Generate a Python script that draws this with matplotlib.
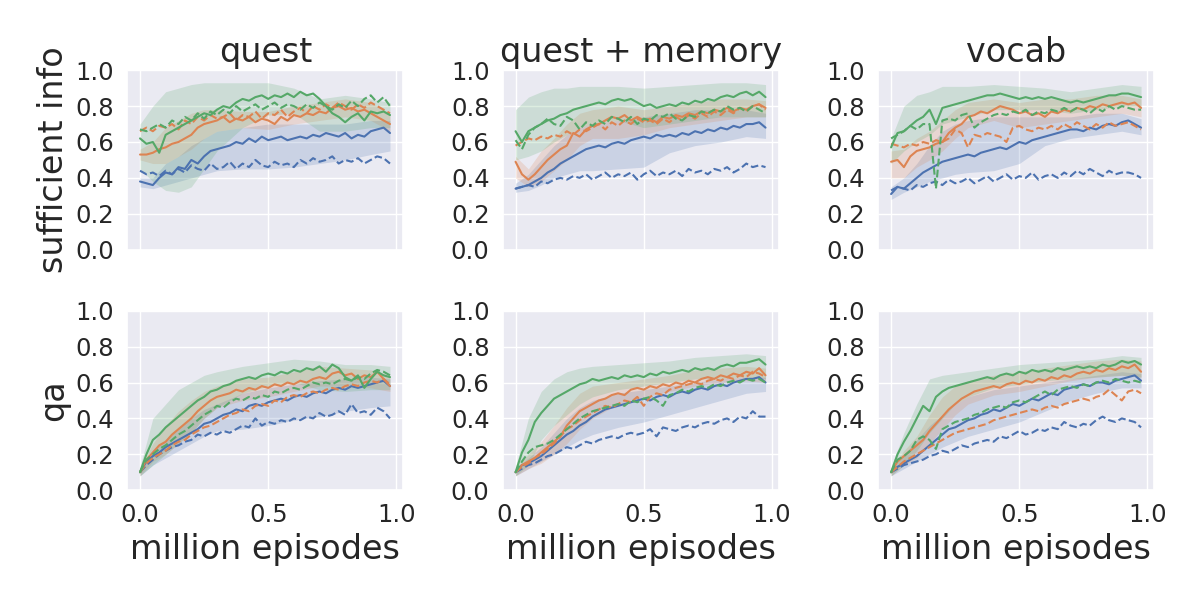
import numpy as np
import matplotlib
matplotlib.use("Agg")
import matplotlib.pyplot as plt
import seaborn as sns

# x axis: million episodes
episodes = np.arange(40) * 0.025
band_x = [0, 0.05, 0.1, 0.15, 0.2, 0.25, 0.3, 0.4, 0.5, 0.6, 0.7, 0.8, 0.9, 0.975]

titles = ["quest", "quest + memory", "vocab"]
row_labels = ["sufficient info", "qa"]

# ---- sufficient info : quest ----
si_quest_blue = [0.38, 0.37, 0.36, 0.40, 0.43, 0.42, 0.46, 0.45, 0.50, 0.48, 0.52, 0.55, 0.56, 0.57, 0.58, 0.60,
                 0.59, 0.62, 0.60, 0.63, 0.61, 0.62, 0.63, 0.61, 0.62, 0.63, 0.62, 0.64, 0.63, 0.65, 0.64, 0.63,
                 0.65, 0.62, 0.64, 0.63, 0.66, 0.67, 0.68, 0.65]
si_quest_blue_dash = [0.44, 0.42, 0.43, 0.41, 0.44, 0.42, 0.45, 0.43, 0.47, 0.45, 0.44, 0.48, 0.45, 0.46, 0.49, 0.45,
                      0.48, 0.46, 0.50, 0.47, 0.46, 0.49, 0.47, 0.48, 0.46, 0.50, 0.48, 0.51, 0.49, 0.50, 0.52, 0.48,
                      0.50, 0.49, 0.51, 0.48, 0.50, 0.52, 0.51, 0.48]
si_quest_orange = [0.53, 0.53, 0.54, 0.56, 0.57, 0.59, 0.60, 0.62, 0.64, 0.68, 0.70, 0.71, 0.72, 0.74, 0.71, 0.73,
                   0.72, 0.74, 0.71, 0.73, 0.72, 0.70, 0.74, 0.72, 0.75, 0.74, 0.76, 0.75, 0.77, 0.76, 0.79, 0.80,
                   0.78, 0.79, 0.77, 0.78, 0.76, 0.74, 0.72, 0.70]
si_quest_orange_dash = [0.66, 0.68, 0.66, 0.69, 0.68, 0.70, 0.67, 0.72, 0.70, 0.74, 0.72, 0.75, 0.73, 0.74, 0.76, 0.72,
                        0.75, 0.74, 0.77, 0.73, 0.76, 0.75, 0.78, 0.74, 0.77, 0.79, 0.76, 0.80, 0.78, 0.81, 0.79, 0.82,
                        0.80, 0.78, 0.81, 0.79, 0.82, 0.80, 0.78, 0.76]
si_quest_green = [0.62, 0.59, 0.60, 0.54, 0.64, 0.66, 0.68, 0.70, 0.72, 0.74, 0.76, 0.75, 0.78, 0.80, 0.79, 0.82,
                  0.84, 0.83, 0.85, 0.86, 0.84, 0.86, 0.85, 0.87, 0.85, 0.88, 0.86, 0.87, 0.84, 0.80, 0.76, 0.74,
                  0.71, 0.74, 0.76, 0.72, 0.77, 0.76, 0.77, 0.75]
si_quest_green_dash = [0.67, 0.66, 0.68, 0.70, 0.68, 0.72, 0.70, 0.74, 0.72, 0.76, 0.73, 0.77, 0.75, 0.78, 0.76, 0.80,
                       0.77, 0.79, 0.81, 0.78, 0.80, 0.82, 0.79, 0.81, 0.80, 0.78, 0.81, 0.79, 0.82, 0.80, 0.78, 0.81,
                       0.79, 0.83, 0.80, 0.84, 0.86, 0.82, 0.85, 0.80]
si_quest_blue_lo = [0.35, 0.34, 0.36, 0.38, 0.40, 0.42, 0.44, 0.45, 0.45, 0.46, 0.48, 0.50, 0.53, 0.55]
si_quest_blue_hi = [0.40, 0.40, 0.48, 0.52, 0.58, 0.62, 0.66, 0.68, 0.70, 0.70, 0.70, 0.70, 0.72, 0.72]
si_quest_orange_lo = [0.50, 0.48, 0.48, 0.52, 0.56, 0.62, 0.66, 0.68, 0.67, 0.70, 0.72, 0.74, 0.72, 0.66]
si_quest_orange_hi = [0.56, 0.60, 0.68, 0.72, 0.76, 0.78, 0.78, 0.77, 0.77, 0.80, 0.82, 0.84, 0.82, 0.76]
si_quest_green_lo = [0.45, 0.38, 0.33, 0.32, 0.35, 0.45, 0.55, 0.68, 0.75, 0.76, 0.66, 0.66, 0.68, 0.68]
si_quest_green_hi = [0.70, 0.80, 0.88, 0.90, 0.92, 0.93, 0.93, 0.93, 0.93, 0.90, 0.84, 0.86, 0.84, 0.82]

# ---- sufficient info : quest + memory ----
si_mem_blue = [0.34, 0.35, 0.36, 0.38, 0.40, 0.43, 0.45, 0.48, 0.50, 0.52, 0.54, 0.56, 0.57, 0.58, 0.57, 0.59,
               0.60, 0.59, 0.61, 0.62, 0.63, 0.62, 0.64, 0.63, 0.64, 0.63, 0.65, 0.64, 0.66, 0.65, 0.67, 0.66,
               0.68, 0.67, 0.69, 0.68, 0.70, 0.70, 0.71, 0.68]
si_mem_blue_dash = [0.34, 0.35, 0.36, 0.35, 0.38, 0.37, 0.39, 0.40, 0.39, 0.41, 0.40, 0.42, 0.39, 0.41, 0.43, 0.40,
                    0.42, 0.41, 0.43, 0.39, 0.42, 0.44, 0.41, 0.43, 0.42, 0.44, 0.41, 0.45, 0.43, 0.44, 0.42, 0.45,
                    0.44, 0.46, 0.43, 0.45, 0.48, 0.46, 0.47, 0.46]
si_mem_orange = [0.49, 0.42, 0.39, 0.42, 0.46, 0.50, 0.53, 0.56, 0.58, 0.65, 0.63, 0.67, 0.69, 0.70, 0.72, 0.74,
                 0.73, 0.75, 0.72, 0.74, 0.72, 0.73, 0.71, 0.74, 0.73, 0.75, 0.74, 0.76, 0.75, 0.77, 0.76, 0.78,
                 0.77, 0.79, 0.77, 0.79, 0.78, 0.80, 0.81, 0.79]
si_mem_orange_dash = [0.58, 0.60, 0.62, 0.61, 0.63, 0.62, 0.64, 0.63, 0.66, 0.64, 0.67, 0.66, 0.68, 0.70, 0.67, 0.71,
                      0.69, 0.72, 0.70, 0.73, 0.71, 0.72, 0.70, 0.73, 0.71, 0.74, 0.72, 0.75, 0.73, 0.76, 0.74, 0.77,
                      0.75, 0.78, 0.76, 0.79, 0.77, 0.80, 0.81, 0.78]
si_mem_green = [0.66, 0.60, 0.66, 0.68, 0.70, 0.72, 0.73, 0.75, 0.76, 0.78, 0.79, 0.80, 0.81, 0.82, 0.81, 0.83,
                0.84, 0.83, 0.84, 0.82, 0.80, 0.81, 0.79, 0.80, 0.81, 0.80, 0.82, 0.81, 0.83, 0.82, 0.84, 0.83,
                0.85, 0.86, 0.85, 0.87, 0.88, 0.86, 0.88, 0.85]
si_mem_green_dash = [0.61, 0.56, 0.64, 0.68, 0.70, 0.73, 0.70, 0.69, 0.74, 0.72, 0.67, 0.71, 0.69, 0.72, 0.70, 0.74,
                     0.73, 0.71, 0.74, 0.70, 0.73, 0.72, 0.75, 0.74, 0.76, 0.73, 0.72, 0.75, 0.74, 0.77, 0.76, 0.78,
                     0.77, 0.80, 0.78, 0.79, 0.77, 0.80, 0.78, 0.76]
si_mem_blue_lo = [0.32, 0.33, 0.36, 0.40, 0.42, 0.44, 0.44, 0.45, 0.46, 0.54, 0.58, 0.60, 0.63, 0.62]
si_mem_blue_hi = [0.37, 0.42, 0.50, 0.58, 0.64, 0.68, 0.70, 0.72, 0.74, 0.76, 0.78, 0.78, 0.78, 0.76]
si_mem_orange_lo = [0.40, 0.35, 0.38, 0.44, 0.50, 0.58, 0.62, 0.62, 0.64, 0.68, 0.70, 0.72, 0.74, 0.74]
si_mem_orange_hi = [0.52, 0.45, 0.55, 0.62, 0.70, 0.76, 0.78, 0.80, 0.78, 0.80, 0.82, 0.84, 0.84, 0.83]
si_mem_green_lo = [0.50, 0.52, 0.55, 0.60, 0.64, 0.68, 0.70, 0.72, 0.68, 0.70, 0.72, 0.74, 0.74, 0.74]
si_mem_green_hi = [0.78, 0.85, 0.88, 0.90, 0.90, 0.91, 0.91, 0.91, 0.90, 0.91, 0.92, 0.93, 0.93, 0.92]

# ---- sufficient info : vocab ----
si_voc_blue = [0.31, 0.35, 0.34, 0.37, 0.40, 0.43, 0.45, 0.47, 0.49, 0.50, 0.51, 0.52, 0.53, 0.52, 0.54, 0.55,
               0.56, 0.57, 0.56, 0.58, 0.60, 0.59, 0.61, 0.62, 0.63, 0.64, 0.65, 0.66, 0.67, 0.67, 0.66, 0.68,
               0.67, 0.69, 0.70, 0.69, 0.71, 0.72, 0.70, 0.68]
si_voc_blue_dash = [0.33, 0.35, 0.34, 0.33, 0.36, 0.35, 0.37, 0.38, 0.36, 0.39, 0.37, 0.38, 0.40, 0.37, 0.39, 0.41,
                    0.38, 0.40, 0.42, 0.39, 0.41, 0.40, 0.43, 0.39, 0.41, 0.42, 0.40, 0.43, 0.41, 0.44, 0.42, 0.45,
                    0.43, 0.41, 0.44, 0.42, 0.43, 0.43, 0.42, 0.40]
si_voc_orange = [0.49, 0.50, 0.46, 0.52, 0.55, 0.56, 0.57, 0.59, 0.60, 0.65, 0.68, 0.70, 0.74, 0.75, 0.77, 0.76,
                 0.78, 0.80, 0.79, 0.78, 0.76, 0.77, 0.75, 0.76, 0.74, 0.77, 0.76, 0.78, 0.77, 0.79, 0.78, 0.80,
                 0.79, 0.81, 0.80, 0.81, 0.82, 0.81, 0.82, 0.79]
si_voc_orange_dash = [0.59, 0.58, 0.57, 0.59, 0.58, 0.60, 0.59, 0.61, 0.60, 0.62, 0.67, 0.65, 0.57, 0.64, 0.63, 0.65,
                      0.64, 0.63, 0.60, 0.68, 0.69, 0.67, 0.66, 0.68, 0.67, 0.69, 0.67, 0.70, 0.68, 0.71, 0.69, 0.67,
                      0.70, 0.68, 0.71, 0.69, 0.70, 0.71, 0.69, 0.67]
si_voc_green = [0.57, 0.65, 0.66, 0.69, 0.72, 0.74, 0.78, 0.70, 0.79, 0.80, 0.81, 0.82, 0.83, 0.84, 0.85, 0.86,
                0.86, 0.87, 0.86, 0.85, 0.84, 0.85, 0.84, 0.85, 0.84, 0.85, 0.84, 0.83, 0.82, 0.83, 0.82, 0.83,
                0.84, 0.85, 0.86, 0.86, 0.87, 0.87, 0.86, 0.85]
si_voc_green_dash = [0.62, 0.64, 0.66, 0.69, 0.67, 0.70, 0.70, 0.34, 0.72, 0.73, 0.72, 0.75, 0.76, 0.68, 0.71, 0.73,
                     0.75, 0.76, 0.75, 0.77, 0.76, 0.78, 0.75, 0.77, 0.76, 0.78, 0.77, 0.79, 0.77, 0.79, 0.78, 0.76,
                     0.79, 0.77, 0.80, 0.78, 0.80, 0.79, 0.78, 0.78]
si_voc_blue_lo = [0.28, 0.32, 0.35, 0.38, 0.40, 0.42, 0.43, 0.44, 0.48, 0.58, 0.62, 0.64, 0.66, 0.64]
si_voc_blue_hi = [0.35, 0.40, 0.48, 0.58, 0.66, 0.70, 0.72, 0.74, 0.74, 0.74, 0.74, 0.76, 0.76, 0.73]
si_voc_orange_lo = [0.40, 0.40, 0.46, 0.50, 0.55, 0.62, 0.68, 0.72, 0.68, 0.70, 0.72, 0.74, 0.76, 0.74]
si_voc_orange_hi = [0.55, 0.56, 0.62, 0.66, 0.72, 0.78, 0.82, 0.84, 0.82, 0.84, 0.84, 0.86, 0.86, 0.84]
si_voc_green_lo = [0.48, 0.55, 0.60, 0.64, 0.70, 0.72, 0.74, 0.78, 0.78, 0.78, 0.76, 0.78, 0.80, 0.80]
si_voc_green_hi = [0.62, 0.80, 0.86, 0.88, 0.91, 0.91, 0.91, 0.92, 0.91, 0.90, 0.88, 0.90, 0.92, 0.91]

# ---- qa : quest ----
qa_quest_blue = [0.10, 0.16, 0.19, 0.21, 0.24, 0.26, 0.28, 0.30, 0.32, 0.34, 0.37, 0.38, 0.40, 0.42, 0.43, 0.45,
                 0.44, 0.47, 0.48, 0.47, 0.49, 0.50, 0.51, 0.50, 0.52, 0.53, 0.52, 0.54, 0.55, 0.54, 0.56, 0.57,
                 0.56, 0.58, 0.57, 0.58, 0.59, 0.60, 0.61, 0.58]
qa_quest_blue_dash = [0.10, 0.14, 0.17, 0.20, 0.22, 0.24, 0.25, 0.27, 0.28, 0.31, 0.30, 0.32, 0.31, 0.33, 0.32, 0.34,
                      0.36, 0.35, 0.40, 0.36, 0.38, 0.37, 0.39, 0.38, 0.40, 0.39, 0.41, 0.40, 0.43, 0.41, 0.42, 0.44,
                      0.42, 0.48, 0.43, 0.44, 0.42, 0.46, 0.44, 0.40]
qa_quest_orange = [0.10, 0.17, 0.21, 0.25, 0.27, 0.31, 0.34, 0.37, 0.40, 0.44, 0.47, 0.50, 0.52, 0.53, 0.54, 0.56,
                   0.55, 0.57, 0.56, 0.58, 0.57, 0.59, 0.58, 0.60, 0.59, 0.61, 0.60, 0.62, 0.63, 0.62, 0.65, 0.66,
                   0.64, 0.65, 0.62, 0.64, 0.63, 0.66, 0.62, 0.58]
qa_quest_orange_dash = [0.10, 0.15, 0.18, 0.20, 0.22, 0.25, 0.27, 0.28, 0.31, 0.33, 0.35, 0.36, 0.38, 0.40, 0.42, 0.43,
                        0.45, 0.44, 0.47, 0.48, 0.47, 0.50, 0.49, 0.52, 0.53, 0.52, 0.54, 0.55, 0.54, 0.56, 0.57, 0.56,
                        0.58, 0.59, 0.58, 0.60, 0.61, 0.60, 0.62, 0.59]
qa_quest_green = [0.10, 0.20, 0.28, 0.31, 0.35, 0.38, 0.41, 0.44, 0.47, 0.50, 0.52, 0.55, 0.56, 0.58, 0.59, 0.61,
                  0.62, 0.63, 0.62, 0.64, 0.65, 0.64, 0.66, 0.65, 0.67, 0.66, 0.68, 0.67, 0.69, 0.66, 0.70, 0.68,
                  0.63, 0.61, 0.64, 0.57, 0.62, 0.66, 0.64, 0.63]
qa_quest_green_dash = [0.10, 0.17, 0.20, 0.23, 0.25, 0.28, 0.31, 0.33, 0.36, 0.39, 0.42, 0.44, 0.47, 0.46, 0.49, 0.51,
                       0.50, 0.52, 0.51, 0.53, 0.52, 0.55, 0.54, 0.56, 0.57, 0.56, 0.58, 0.60, 0.59, 0.60, 0.59, 0.61,
                       0.62, 0.61, 0.63, 0.62, 0.65, 0.67, 0.66, 0.64]
qa_quest_blue_lo = [0.08, 0.14, 0.18, 0.22, 0.26, 0.30, 0.33, 0.34, 0.36, 0.39, 0.41, 0.44, 0.46, 0.47]
qa_quest_blue_hi = [0.12, 0.22, 0.28, 0.34, 0.40, 0.45, 0.48, 0.54, 0.57, 0.59, 0.61, 0.62, 0.63, 0.62]
qa_quest_orange_lo = [0.08, 0.16, 0.20, 0.26, 0.32, 0.40, 0.46, 0.50, 0.52, 0.55, 0.58, 0.58, 0.57, 0.55]
qa_quest_orange_hi = [0.12, 0.26, 0.36, 0.44, 0.50, 0.55, 0.58, 0.62, 0.63, 0.66, 0.69, 0.68, 0.67, 0.64]
qa_quest_green_lo = [0.08, 0.14, 0.20, 0.26, 0.32, 0.40, 0.46, 0.54, 0.58, 0.60, 0.56, 0.55, 0.56, 0.56]
qa_quest_green_hi = [0.13, 0.40, 0.48, 0.56, 0.60, 0.64, 0.66, 0.69, 0.71, 0.73, 0.72, 0.70, 0.70, 0.69]

# ---- qa : quest + memory ----
qa_mem_blue = [0.10, 0.14, 0.15, 0.17, 0.19, 0.22, 0.25, 0.28, 0.31, 0.33, 0.36, 0.38, 0.41, 0.43, 0.45, 0.46,
               0.47, 0.48, 0.49, 0.50, 0.51, 0.50, 0.52, 0.53, 0.52, 0.54, 0.55, 0.54, 0.56, 0.57, 0.56, 0.58,
               0.59, 0.58, 0.60, 0.61, 0.62, 0.62, 0.63, 0.60]
qa_mem_blue_dash = [0.10, 0.12, 0.14, 0.15, 0.17, 0.19, 0.20, 0.22, 0.24, 0.23, 0.25, 0.27, 0.26, 0.28, 0.29, 0.30,
                    0.29, 0.31, 0.32, 0.31, 0.32, 0.34, 0.30, 0.35, 0.34, 0.33, 0.35, 0.36, 0.35, 0.37, 0.38, 0.37,
                    0.39, 0.40, 0.38, 0.41, 0.40, 0.44, 0.41, 0.41]
qa_mem_orange = [0.10, 0.14, 0.16, 0.18, 0.21, 0.24, 0.27, 0.30, 0.36, 0.40, 0.44, 0.46, 0.48, 0.50, 0.51, 0.53,
                 0.54, 0.53, 0.56, 0.57, 0.56, 0.58, 0.57, 0.59, 0.58, 0.60, 0.59, 0.61, 0.60, 0.62, 0.63, 0.62,
                 0.64, 0.63, 0.65, 0.64, 0.66, 0.65, 0.68, 0.64]
qa_mem_orange_dash = [0.10, 0.13, 0.15, 0.18, 0.20, 0.23, 0.26, 0.30, 0.34, 0.36, 0.39, 0.41, 0.43, 0.45, 0.47, 0.46,
                      0.48, 0.50, 0.49, 0.52, 0.47, 0.52, 0.54, 0.53, 0.56, 0.57, 0.58, 0.59, 0.60, 0.59, 0.61, 0.62,
                      0.61, 0.63, 0.62, 0.64, 0.63, 0.66, 0.65, 0.63]
qa_mem_green = [0.10, 0.21, 0.28, 0.38, 0.43, 0.47, 0.51, 0.53, 0.55, 0.57, 0.59, 0.60, 0.62, 0.61, 0.62, 0.63,
                0.62, 0.64, 0.63, 0.64, 0.63, 0.65, 0.64, 0.66, 0.65, 0.66, 0.67, 0.66, 0.68, 0.67, 0.68, 0.67,
                0.69, 0.70, 0.69, 0.71, 0.71, 0.72, 0.73, 0.70]
qa_mem_green_dash = [0.10, 0.16, 0.21, 0.24, 0.25, 0.26, 0.28, 0.31, 0.34, 0.37, 0.40, 0.42, 0.44, 0.45, 0.46, 0.47,
                     0.48, 0.47, 0.50, 0.49, 0.51, 0.52, 0.50, 0.47, 0.53, 0.54, 0.56, 0.55, 0.57, 0.58, 0.57, 0.59,
                     0.58, 0.60, 0.61, 0.60, 0.62, 0.61, 0.62, 0.60]
qa_mem_blue_lo = [0.08, 0.12, 0.16, 0.20, 0.24, 0.28, 0.31, 0.35, 0.38, 0.42, 0.46, 0.50, 0.54, 0.55]
qa_mem_blue_hi = [0.12, 0.18, 0.24, 0.32, 0.40, 0.46, 0.50, 0.54, 0.56, 0.58, 0.60, 0.62, 0.63, 0.63]
qa_mem_orange_lo = [0.08, 0.12, 0.15, 0.20, 0.26, 0.34, 0.40, 0.48, 0.52, 0.55, 0.58, 0.60, 0.61, 0.60]
qa_mem_orange_hi = [0.12, 0.20, 0.27, 0.36, 0.46, 0.54, 0.58, 0.60, 0.62, 0.64, 0.67, 0.68, 0.69, 0.68]
qa_mem_green_lo = [0.08, 0.14, 0.28, 0.36, 0.42, 0.48, 0.52, 0.56, 0.58, 0.60, 0.62, 0.62, 0.63, 0.62]
qa_mem_green_hi = [0.13, 0.40, 0.55, 0.62, 0.66, 0.68, 0.69, 0.70, 0.71, 0.72, 0.74, 0.75, 0.76, 0.75]

# ---- qa : vocab ----
qa_voc_blue = [0.10, 0.13, 0.15, 0.17, 0.19, 0.22, 0.25, 0.28, 0.31, 0.34, 0.35, 0.37, 0.39, 0.40, 0.42, 0.43,
               0.45, 0.44, 0.46, 0.48, 0.47, 0.49, 0.51, 0.50, 0.52, 0.54, 0.53, 0.56, 0.57, 0.58, 0.59, 0.58,
               0.60, 0.60, 0.59, 0.61, 0.62, 0.63, 0.64, 0.61]
qa_voc_blue_dash = [0.10, 0.12, 0.14, 0.15, 0.16, 0.17, 0.19, 0.20, 0.22, 0.21, 0.23, 0.25, 0.24, 0.26, 0.27, 0.28,
                    0.27, 0.30, 0.29, 0.31, 0.33, 0.31, 0.32, 0.34, 0.33, 0.35, 0.34, 0.38, 0.36, 0.35, 0.37, 0.36,
                    0.39, 0.41, 0.39, 0.38, 0.40, 0.39, 0.38, 0.35]
qa_voc_orange = [0.10, 0.16, 0.19, 0.22, 0.25, 0.28, 0.33, 0.37, 0.41, 0.45, 0.48, 0.51, 0.53, 0.55, 0.56, 0.57,
                 0.58, 0.57, 0.59, 0.60, 0.59, 0.61, 0.60, 0.62, 0.61, 0.63, 0.62, 0.64, 0.63, 0.65, 0.66, 0.65,
                 0.67, 0.66, 0.68, 0.67, 0.69, 0.68, 0.70, 0.66]
qa_voc_orange_dash = [0.10, 0.13, 0.16, 0.18, 0.20, 0.22, 0.24, 0.26, 0.28, 0.30, 0.32, 0.33, 0.34, 0.35, 0.36, 0.37,
                      0.39, 0.40, 0.41, 0.42, 0.43, 0.44, 0.45, 0.44, 0.46, 0.47, 0.46, 0.48, 0.49, 0.50, 0.51, 0.50,
                      0.52, 0.53, 0.56, 0.53, 0.50, 0.55, 0.56, 0.54]
qa_voc_green = [0.10, 0.20, 0.27, 0.33, 0.40, 0.47, 0.44, 0.52, 0.55, 0.57, 0.58, 0.59, 0.60, 0.61, 0.62, 0.63,
                0.62, 0.64, 0.65, 0.64, 0.66, 0.65, 0.67, 0.66, 0.67, 0.66, 0.68, 0.67, 0.68, 0.69, 0.68, 0.69,
                0.68, 0.70, 0.69, 0.70, 0.72, 0.71, 0.72, 0.70]
qa_voc_green_dash = [0.10, 0.17, 0.19, 0.22, 0.28, 0.30, 0.28, 0.23, 0.34, 0.36, 0.38, 0.39, 0.40, 0.42, 0.43, 0.45,
                     0.46, 0.47, 0.46, 0.49, 0.50, 0.49, 0.51, 0.53, 0.55, 0.53, 0.56, 0.57, 0.58, 0.57, 0.59, 0.58,
                     0.60, 0.61, 0.60, 0.62, 0.61, 0.60, 0.61, 0.60]
qa_voc_blue_lo = [0.08, 0.12, 0.16, 0.20, 0.24, 0.27, 0.30, 0.34, 0.38, 0.44, 0.50, 0.54, 0.57, 0.57]
qa_voc_blue_hi = [0.12, 0.20, 0.28, 0.36, 0.42, 0.48, 0.52, 0.56, 0.58, 0.60, 0.62, 0.64, 0.66, 0.65]
qa_voc_orange_lo = [0.08, 0.14, 0.18, 0.26, 0.34, 0.42, 0.48, 0.53, 0.55, 0.58, 0.61, 0.63, 0.64, 0.63]
qa_voc_orange_hi = [0.12, 0.22, 0.30, 0.42, 0.52, 0.58, 0.61, 0.64, 0.66, 0.68, 0.70, 0.72, 0.73, 0.72]
qa_voc_green_lo = [0.08, 0.14, 0.22, 0.32, 0.40, 0.48, 0.52, 0.57, 0.59, 0.61, 0.62, 0.63, 0.64, 0.63]
qa_voc_green_hi = [0.13, 0.32, 0.48, 0.62, 0.64, 0.65, 0.66, 0.68, 0.70, 0.71, 0.72, 0.73, 0.75, 0.74]

panels = [
    [  # sufficient info
        (si_quest_blue, si_quest_blue_dash, si_quest_orange, si_quest_orange_dash, si_quest_green, si_quest_green_dash,
         si_quest_blue_lo, si_quest_blue_hi, si_quest_orange_lo, si_quest_orange_hi, si_quest_green_lo, si_quest_green_hi),
        (si_mem_blue, si_mem_blue_dash, si_mem_orange, si_mem_orange_dash, si_mem_green, si_mem_green_dash,
         si_mem_blue_lo, si_mem_blue_hi, si_mem_orange_lo, si_mem_orange_hi, si_mem_green_lo, si_mem_green_hi),
        (si_voc_blue, si_voc_blue_dash, si_voc_orange, si_voc_orange_dash, si_voc_green, si_voc_green_dash,
         si_voc_blue_lo, si_voc_blue_hi, si_voc_orange_lo, si_voc_orange_hi, si_voc_green_lo, si_voc_green_hi),
    ],
    [  # qa
        (qa_quest_blue, qa_quest_blue_dash, qa_quest_orange, qa_quest_orange_dash, qa_quest_green, qa_quest_green_dash,
         qa_quest_blue_lo, qa_quest_blue_hi, qa_quest_orange_lo, qa_quest_orange_hi, qa_quest_green_lo, qa_quest_green_hi),
        (qa_mem_blue, qa_mem_blue_dash, qa_mem_orange, qa_mem_orange_dash, qa_mem_green, qa_mem_green_dash,
         qa_mem_blue_lo, qa_mem_blue_hi, qa_mem_orange_lo, qa_mem_orange_hi, qa_mem_green_lo, qa_mem_green_hi),
        (qa_voc_blue, qa_voc_blue_dash, qa_voc_orange, qa_voc_orange_dash, qa_voc_green, qa_voc_green_dash,
         qa_voc_blue_lo, qa_voc_blue_hi, qa_voc_orange_lo, qa_voc_orange_hi, qa_voc_green_lo, qa_voc_green_hi),
    ],
]

sns.set_theme(style="darkgrid")
colors = sns.color_palette("deep")
blue, orange, green = colors[0], colors[1], colors[2]

fig, axes = plt.subplots(2, 3, figsize=(12, 6), dpi=100, sharex=True)
fig.subplots_adjust(left=0.106, right=0.962, top=0.883, bottom=0.183, wspace=0.36, hspace=0.34)

for r in range(2):
    for c in range(3):
        ax = axes[r, c]
        (b, bd, o, od, g, gd, blo, bhi, olo, ohi, glo, ghi) = panels[r][c]
        for lo, hi, col in [(blo, bhi, blue), (olo, ohi, orange), (glo, ghi, green)]:
            ax.fill_between(band_x, lo, hi, color=col, alpha=0.2, linewidth=0)
        ax.plot(episodes, b, color=blue, lw=1.5)
        ax.plot(episodes, bd, color=blue, lw=1.5, ls="--")
        ax.plot(episodes, o, color=orange, lw=1.5)
        ax.plot(episodes, od, color=orange, lw=1.5, ls="--")
        ax.plot(episodes, g, color=green, lw=1.5)
        ax.plot(episodes, gd, color=green, lw=1.5, ls="--")
        ax.set_ylim(0, 1)
        ax.set_yticks([0, 0.2, 0.4, 0.6, 0.8, 1.0])
        ax.set_xlim(-0.05, 1.027)
        ax.set_xticks([0, 0.5, 1.0])
        ax.tick_params(labelsize=17.5)
        if r == 0:
            ax.set_title(titles[c], fontsize=24)
        if r == 1:
            ax.set_xlabel("million episodes", fontsize=24)
        if c == 0:
            ax.set_ylabel(row_labels[r], fontsize=24)

fig.savefig("out.png", dpi=100)
